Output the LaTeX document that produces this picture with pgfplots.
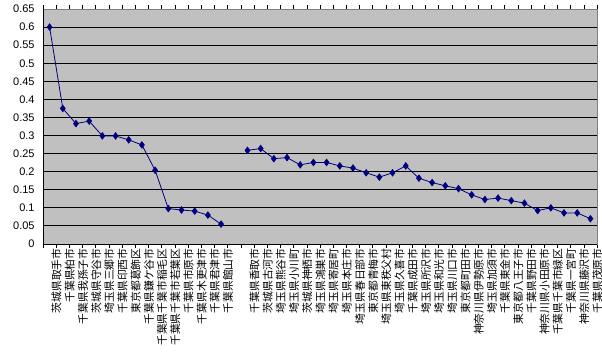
\documentclass[border=0pt]{standalone}
\usepackage{pgfplots}
\pgfplotsset{compat=1.18}
\usepackage{fontspec}
\setmainfont{Liberation Sans}
\newfontfamily\cjk{Noto Sans CJK JP}
\definecolor{navyline}{HTML}{000080}
\definecolor{plotbg}{HTML}{C0C0C0}
\definecolor{framegray}{HTML}{808080}
\begin{document}
\begin{tikzpicture}
\useasboundingbox (-43bp,-111bp) rectangle (559bp,244bp);
\begin{axis}[
  scale only axis,
  width=554bp, height=235bp,
  xmin=-0.5, xmax=41.5,
  ymin=0, ymax=0.65,
  ytick={0,0.05,...,0.66},
  yticklabel style={/pgf/number format/fixed,/pgf/number format/precision=2,
    /pgf/number format/assume math mode=true,
    font=\fontsize{11bp}{13bp}\selectfont, inner sep=1bp, xshift=-3bp},
  ymajorgrids,
  grid style={black, line width=0.9bp},
  major y tick style={draw=none},
  axis background/.style={fill=plotbg},
  axis line style={draw=framegray, line width=0.8bp},
  xtick={0,...,41},
  major x tick style={draw=none},
  minor xtick={-0.5,0.5,...,41.5},
  minor x tick style={black, line width=0.6bp},
  minor tick length=4bp,
  tick align=outside,
  xticklabels={茨城県取手市,千葉県柏市,千葉県我孫子市,茨城県守谷市,埼玉県三郷市,千葉県印西市,東京都葛飾区,千葉県鎌ケ谷市,千葉県千葉市稲毛区,千葉県千葉市若葉区,千葉県市原市,千葉県木更津市,千葉県君津市,千葉県館山市,{},千葉県香取市,茨城県古河市,埼玉県熊谷市,埼玉県小川町,茨城県神栖市,埼玉県鴻巣市,埼玉県寄居町,埼玉県本庄市,埼玉県春日部市,東京都青梅市,埼玉県東秩父村,埼玉県久喜市,千葉県成田市,埼玉県所沢市,埼玉県和光市,埼玉県川口市,東京都町田市,神奈川県伊勢原市,埼玉県加須市,千葉県東金市,東京都八王子市,千葉県野田市,神奈川県小田原市,千葉県千葉市緑区,千葉県一宮町,神奈川県藤沢市,千葉県茂原市},
  xticklabel style={rotate=90, anchor=east, inner sep=0bp, yshift=-7bp,
    font=\cjk\fontsize{10.8bp}{11bp}\selectfont},
  clip=false,
]
\draw[black, line width=0.8bp] (rel axis cs:0,1) -- (rel axis cs:0,0) -- (rel axis cs:1,0);
\addplot[navyline, line width=0.8bp, mark=diamond*, mark size=3.2bp,
  mark options={fill=navyline, draw=navyline}] coordinates {
  (0,0.600) (1,0.375) (2,0.333) (3,0.340) (4,0.299) (5,0.299) (6,0.288)
  (7,0.274) (8,0.204) (9,0.098) (10,0.094) (11,0.091) (12,0.080) (13,0.055)
};
\addplot[navyline, line width=0.8bp, mark=diamond*, mark size=3.2bp,
  mark options={fill=navyline, draw=navyline}] coordinates {
  (15,0.259) (16,0.264) (17,0.236) (18,0.239) (19,0.219) (20,0.2255)
  (21,0.2255) (22,0.216) (23,0.210) (24,0.197) (25,0.185) (26,0.197)
  (27,0.216) (28,0.182) (29,0.170) (30,0.161) (31,0.153) (32,0.136)
  (33,0.123) (34,0.127) (35,0.120) (36,0.113) (37,0.0925) (38,0.100)
  (39,0.086) (40,0.086) (41,0.070)
};
\end{axis}
\end{tikzpicture}
\end{document}
